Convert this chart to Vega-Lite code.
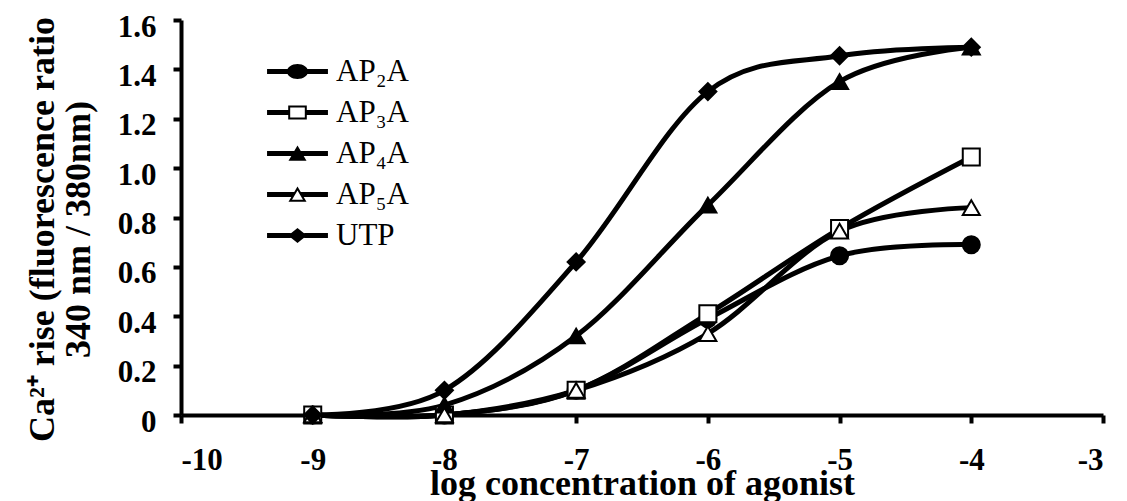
{
  "$schema": "https://vega.github.io/schema/vega-lite/v6.json",
  "width": 922,
  "height": 395,
  "autosize": {"type": "none"},
  "padding": {"left": 181, "top": 20, "right": 24, "bottom": 86},
  "background": "white",
  "config": {
    "view": {"stroke": null},
    "font": "Liberation Serif",
    "axis": {
      "grid": false,
      "domainColor": "black",
      "tickColor": "black",
      "labelColor": "black",
      "titleColor": "black",
      "labelFont": "Liberation Serif",
      "titleFont": "Liberation Serif",
      "labelFontWeight": "bold",
      "titleFontWeight": "bold",
      "labelFontSize": 31,
      "titleFontSize": 36,
      "tickSize": 8,
      "tickWidth": 4,
      "domainWidth": 4
    }
  },
  "data": {
    "values": [
      {"series": "AP₂A", "x": -9, "y": 0},
      {"series": "AP₂A", "x": -8, "y": 0},
      {"series": "AP₂A", "x": -7, "y": 0.1},
      {"series": "AP₂A", "x": -6, "y": 0.39},
      {"series": "AP₂A", "x": -5, "y": 0.645},
      {"series": "AP₂A", "x": -4, "y": 0.69},
      {"series": "AP₃A", "x": -9, "y": 0},
      {"series": "AP₃A", "x": -8, "y": 0},
      {"series": "AP₃A", "x": -7, "y": 0.1},
      {"series": "AP₃A", "x": -6, "y": 0.41},
      {"series": "AP₃A", "x": -5, "y": 0.755},
      {"series": "AP₃A", "x": -4, "y": 1.045},
      {"series": "AP₄A", "x": -9, "y": 0},
      {"series": "AP₄A", "x": -8, "y": 0.04},
      {"series": "AP₄A", "x": -7, "y": 0.32},
      {"series": "AP₄A", "x": -6, "y": 0.85},
      {"series": "AP₄A", "x": -5, "y": 1.35},
      {"series": "AP₄A", "x": -4, "y": 1.49},
      {"series": "AP₅A", "x": -9, "y": 0},
      {"series": "AP₅A", "x": -8, "y": 0},
      {"series": "AP₅A", "x": -7, "y": 0.1},
      {"series": "AP₅A", "x": -6, "y": 0.33},
      {"series": "AP₅A", "x": -5, "y": 0.745},
      {"series": "AP₅A", "x": -4, "y": 0.84},
      {"series": "UTP", "x": -9, "y": 0},
      {"series": "UTP", "x": -8, "y": 0.1},
      {"series": "UTP", "x": -7, "y": 0.62},
      {"series": "UTP", "x": -6, "y": 1.31},
      {"series": "UTP", "x": -5, "y": 1.455},
      {"series": "UTP", "x": -4, "y": 1.49}
    ]
  },
  "layer": [
    {
      "mark": {"type": "line", "interpolate": "cardinal", "tension": 0, "stroke": "black", "strokeWidth": 5},
      "encoding": {
        "x": {
          "field": "x", "type": "quantitative",
          "scale": {"domain": [-10, -3], "nice": false, "zero": false},
          "axis": {
            "values": [-10, -9, -8, -7, -6, -5, -4, -3],
            "labelExpr": "toString(datum.value)",
            "labelPadding": 22,
            "title": "log concentration of agonist",
            "titleY": 79,
            "titleBaseline": "alphabetic"
          }
        },
        "y": {
          "field": "y", "type": "quantitative",
          "scale": {"domain": [0, 1.6], "nice": false},
          "axis": {
            "values": [0, 0.2, 0.4, 0.6, 0.8, 1.0, 1.2, 1.4, 1.6],
            "labelExpr": "datum.value == 0 ? '0' : format(datum.value, '.1f')",
            "labelPadding": 17,
            "labelOffset": 7,
            "title": ["Ca²⁺ rise (fluorescence ratio", "340 nm / 380nm)"],
            "titleX": -128,
            "titleY": 209,
            "titleAngle": -90,
            "titleAlign": "center",
            "titleBaseline": "alphabetic",
            "titleLineHeight": 36
          }
        },
        "detail": {"field": "series", "type": "nominal"}
      }
    },
    {
      "mark": {"type": "point", "filled": true, "stroke": "black", "strokeWidth": 2, "size": 290, "opacity": 1},
      "encoding": {
        "x": {"field": "x", "type": "quantitative"},
        "y": {"field": "y", "type": "quantitative"},
        "shape": {
          "field": "series", "type": "nominal",
          "scale": {"domain": ["AP₂A", "AP₃A", "AP₄A", "AP₅A", "UTP"], "range": ["circle", "square", "triangle-up", "triangle-up", "diamond"]},
          "legend": null
        },
        "fill": {
          "field": "series", "type": "nominal",
          "scale": {"domain": ["AP₂A", "AP₃A", "AP₄A", "AP₅A", "UTP"], "range": ["black", "white", "black", "white", "black"]},
          "legend": null
        }
      }
    },
    {
      "transform": [{"filter": "datum.x > 0"}],
      "mark": {"type": "point", "filled": true, "color": "black", "size": 900, "opacity": 1},
      "encoding": {
        "shape": {
          "field": "series", "type": "nominal",
          "scale": {
            "domain": ["AP₂A", "AP₃A", "AP₄A", "AP₅A", "UTP"],
            "range": [
              "M-2.03,-0.167L-0.6,-0.167L-0.6,0.167L-2.03,0.167Z M0.6,-0.167L2.03,-0.167L2.03,0.167L0.6,0.167Z M-0.7,0A0.7,0.5 0 1,1 0.7,0A0.7,0.5 0 1,1 -0.7,0Z",
              "M-2.03,-0.167L-0.62,-0.167L-0.62,0.167L-2.03,0.167Z M0.62,-0.167L2.03,-0.167L2.03,0.167L0.62,0.167Z M-0.62,-0.47L0.62,-0.47L0.62,0.47L-0.62,0.47Z M-0.487,-0.337L-0.487,0.337L0.487,0.337L0.487,-0.337Z",
              "M-2.03,-0.167L-0.216,-0.167L-0.414,0.167L-2.03,0.167Z M0.216,-0.167L2.03,-0.167L2.03,0.167L0.414,0.167Z M0,-0.53L0.6,0.48L-0.6,0.48Z",
              "M-2.03,-0.167L-0.216,-0.167L-0.414,0.167L-2.03,0.167Z M0.216,-0.167L2.03,-0.167L2.03,0.167L0.414,0.167Z M0,-0.53L0.6,0.48L-0.6,0.48Z M0,-0.27L-0.366,0.347L0.366,0.347Z",
              "M-2.03,-0.167L-0.45,-0.167L-0.45,0.167L-2.03,0.167Z M0.45,-0.167L2.03,-0.167L2.03,0.167L0.45,0.167Z M0,-0.5L0.62,0L0,0.5L-0.62,0Z"
            ]
          },
          "legend": {
            "orient": "none",
            "legendX": 101,
            "legendY": 36,
            "title": null,
            "padding": 0,
            "labelFont": "Liberation Serif",
            "labelFontSize": 31,
            "labelFontWeight": "normal",
            "labelColor": "black",
            "labelOffset": 23,
            "symbolSize": 900,
            "symbolFillColor": "black",
            "symbolStrokeWidth": 0,
            "symbolOpacity": 1,
            "rowPadding": 9,
            "encode": {
              "symbols": {
                "update": {
                  "fill": {"value": "black"},
                  "opacity": {"value": 1}
                }
              }
            }
          }
        }
      }
    }
  ],
  "resolve": {"scale": {"shape": "independent", "fill": "independent"}}
}
